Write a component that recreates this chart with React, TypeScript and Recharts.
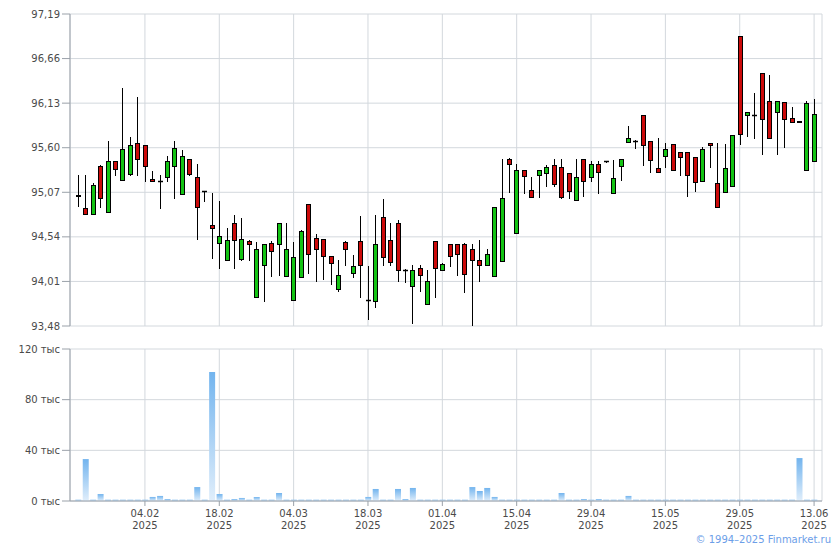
import { Bar, BarChart, CartesianGrid, ComposedChart, XAxis, YAxis } from 'recharts';

// Daily candles + volume, 22.01–13.06 2025 (trading days only).

const dates = [
  '22.01', '23.01', '24.01', '27.01', '28.01', '29.01', '30.01', '31.01', '03.02', '04.02',
  '05.02', '06.02', '07.02', '10.02', '11.02', '12.02', '13.02', '14.02', '17.02', '18.02',
  '19.02', '20.02', '21.02', '24.02', '25.02', '26.02', '27.02', '28.02', '03.03', '04.03',
  '05.03', '06.03', '07.03', '10.03', '11.03', '12.03', '13.03', '14.03', '17.03', '18.03',
  '19.03', '20.03', '21.03', '24.03', '25.03', '26.03', '27.03', '28.03', '31.03', '01.04',
  '02.04', '03.04', '04.04', '07.04', '08.04', '09.04', '10.04', '11.04', '14.04', '15.04',
  '16.04', '17.04', '18.04', '21.04', '22.04', '23.04', '24.04', '25.04', '28.04', '29.04',
  '30.04', '02.05', '05.05', '06.05', '07.05', '08.05', '12.05', '13.05', '14.05', '15.05',
  '16.05', '19.05', '20.05', '21.05', '22.05', '23.05', '26.05', '27.05', '28.05', '29.05',
  '30.05', '02.06', '03.06', '04.06', '05.06', '06.06', '09.06', '10.06', '11.06', '13.06',
];

const tickDates = ['04.02', '18.02', '04.03', '18.03', '01.04', '15.04', '29.04', '15.05', '29.05', '13.06'];

const open = [
  95.03, 94.88, 94.81, 95.38, 94.84, 95.44, 95.22, 95.29, 95.66, 95.63,
  95.23, 95.2, 95.25, 95.38, 95.05, 95.47, 95.25, 95.09, 94.68, 94.47,
  94.27, 94.7, 94.28, 94.49, 93.83, 94.21, 94.47, 94.45, 94.07, 93.79,
  94.06, 94.93, 94.53, 94.51, 94.31, 93.92, 94.48, 94.11, 94.49, 93.79,
  93.78, 94.78, 94.5, 94.71, 94.15, 93.96, 94.17, 93.74, 94.49, 94.15,
  94.46, 94.45, 94.46, 94.4, 94.26, 94.2, 94.07, 94.25, 95.47, 94.59,
  95.34, 95.1, 95.28, 95.3, 95.4, 95.37, 95.3, 94.98, 95.46, 95.25,
  95.41, 95.44, 95.06, 95.38, 95.67, 95.68, 95.99, 95.68, 95.36, 95.5,
  95.65, 95.55, 95.55, 95.49, 95.21, 95.66, 95.18, 95.07, 95.15, 96.93,
  95.99, 95.99, 96.49, 96.15, 96.02, 96.14, 95.95, 95.92, 95.33, 95.44,
];

const high = [
  95.28, 95.28, 95.18, 95.4, 95.68, 95.44, 96.31, 95.73, 96.2, 95.63,
  95.32, 95.27, 95.5, 95.68, 95.57, 95.47, 95.41, 95.09, 95.06, 94.97,
  94.65, 94.8, 94.76, 94.5, 94.48, 94.46, 94.49, 94.71, 94.71, 94.48,
  94.62, 94.93, 94.57, 94.52, 94.31, 94.27, 94.49, 94.33, 94.79, 94.19,
  94.8, 94.99, 94.7, 94.74, 94.16, 94.2, 94.2, 94.15, 94.49, 94.23,
  94.46, 94.46, 94.47, 94.46, 94.5, 94.4, 94.9, 95.47, 95.48, 95.41,
  95.34, 95.25, 95.33, 95.39, 95.46, 95.47, 95.3, 95.47, 95.47, 95.44,
  95.44, 95.44, 95.45, 95.47, 95.86, 95.69, 95.99, 95.68, 95.71, 95.66,
  95.65, 95.55, 95.55, 95.49, 95.61, 95.66, 95.66, 95.65, 95.75, 96.93,
  96.03, 96.25, 96.49, 96.47, 96.16, 96.14, 96.09, 95.92, 96.16, 96.18,
];

const low = [
  94.91, 94.81, 94.81, 94.89, 94.84, 95.27, 95.22, 95.28, 95.28, 95.21,
  95.2, 94.88, 95.21, 95.0, 95.05, 95.28, 94.51, 94.97, 94.29, 94.17,
  94.27, 94.17, 94.27, 94.27, 93.83, 93.78, 94.07, 94.09, 94.07, 93.79,
  94.06, 94.11, 94.02, 94.04, 93.98, 93.9, 94.21, 94.06, 93.82, 93.56,
  93.7, 94.21, 94.2, 94.01, 94.0, 93.52, 93.9, 93.74, 93.82, 94.15,
  94.19, 94.09, 93.89, 93.49, 94.02, 94.2, 94.07, 94.25, 95.07, 94.59,
  95.06, 95.01, 95.01, 95.15, 95.15, 95.0, 95.0, 94.98, 95.03, 95.21,
  95.06, 95.43, 95.06, 95.22, 95.67, 95.6, 95.4, 95.31, 95.31, 95.37,
  95.33, 95.28, 95.02, 95.08, 95.21, 95.37, 94.9, 95.07, 95.15, 95.64,
  95.74, 95.71, 95.53, 95.71, 95.52, 95.61, 95.9, 95.9, 95.33, 95.44,
];

const close = [
  95.04, 94.81, 95.16, 95.0, 95.44, 95.35, 95.58, 95.63, 95.47, 95.38,
  95.2, 95.2, 95.44, 95.6, 95.5, 95.29, 94.9, 95.08, 94.64, 94.55,
  94.5, 94.5, 94.52, 94.46, 94.4, 94.46, 94.37, 94.71, 94.4, 94.3,
  94.61, 94.34, 94.39, 94.31, 94.23, 94.09, 94.4, 94.19, 94.21, 93.79,
  94.46, 94.3, 94.24, 94.15, 94.15, 94.15, 94.09, 94.01, 94.17, 94.22,
  94.31, 94.34, 94.1, 94.27, 94.21, 94.34, 94.9, 95.0, 95.41, 95.34,
  95.26, 95.01, 95.33, 95.37, 95.17, 95.01, 95.08, 95.25, 95.21, 95.41,
  95.31, 95.44, 95.24, 95.47, 95.72, 95.68, 95.63, 95.45, 95.31, 95.59,
  95.33, 95.49, 95.28, 95.19, 95.58, 95.63, 94.9, 95.36, 95.75, 95.76,
  96.03, 95.99, 95.94, 95.71, 96.16, 95.94, 95.91, 95.91, 96.13, 96.0,
];

const volume = [
  1000, 33100, 1000, 5500, 1000, 1000, 1000, 1000, 1000, 1000,
  3200, 4000, 1600, 1000, 1000, 1000, 11000, 1000, 101800, 5500,
  1000, 1600, 2400, 1000, 3200, 1000, 1000, 6300, 1000, 1000,
  1000, 1000, 1000, 1000, 1000, 1000, 1000, 1000, 1000, 3200,
  9500, 1000, 1000, 9500, 1600, 10300, 1000, 1000, 1000, 1000,
  1000, 1000, 1000, 11000, 7900, 10300, 3200, 1000, 1000, 1000,
  1000, 1000, 1000, 1000, 1000, 6300, 1000, 1000, 1600, 1000,
  1600, 1000, 1000, 1000, 4000, 1000, 1000, 1000, 1000, 1000,
  1000, 1000, 1000, 1000, 1000, 1000, 1000, 1000, 1000, 1000,
  1000, 1000, 1000, 1000, 1000, 1000, 1000, 33900, 1000, 1000,
];

const priceTicks = [93.48, 94.01, 94.54, 95.07, 95.6, 96.13, 96.66, 97.19];
const volumeTicks = [0, 40000, 80000, 120000];

const data = dates.map((date, i) => ({
  date,
  open: open[i],
  high: high[i],
  low: low[i],
  close: close[i],
  range: [low[i], high[i]],
  volume: volume[i],
}));

const FONT = '"DejaVu Sans", Verdana, sans-serif';
const GRID = '#d3d8dd';
const AXIS = '#9aa1a9';
const TEXT = '#4a4a4a';
const UP = '#14c414';
const DOWN = '#cc0a0a';

const xPadding = { left: 4.3, right: 4.2 };

function Candle(props: any) {
  const { x, y, width, height, payload } = props;
  const { open: o, high: h, low: l, close: c } = payload;
  const span = h - l || 1;
  const py = (p: number) => y + ((h - p) / span) * height;
  const cx = Math.round(x + width / 2);
  const top = Math.round(py(Math.max(o, c))) + 0.5;
  const bottom = Math.round(py(Math.min(o, c))) + 0.5;
  return (
    <g>
      <line x1={cx + 0.5} x2={cx + 0.5} y1={Math.round(y)} y2={Math.round(y + height) + 1} stroke="#000" />
      {bottom - top < 1 ? (
        <line x1={cx - 2} x2={cx + 3} y1={top} y2={top} stroke="#000" strokeWidth={1.5} />
      ) : (
        <rect x={cx - 1.5} y={top} width={4} height={bottom - top} fill={c >= o ? UP : DOWN} stroke="#000" />
      )}
    </g>
  );
}

function DateTick(props: any) {
  const { x, y, payload } = props;
  return (
    <text x={x} y={y} textAnchor="middle" fill={TEXT} fontSize={10} fontFamily={FONT}>
      <tspan x={x} dy={9}>{payload.value}</tspan>
      <tspan x={x} dy={12}>2025</tspan>
    </text>
  );
}

const fmtPrice = (v: number) => v.toFixed(2).replace('.', ',');
const fmtVolume = (v: number) => `${v / 1000} тыс`;

export default function App() {
  return (
    <div style={{ position: 'absolute', left: 0, top: 0, width: 840, height: 550, background: '#fff' }}>
      <div style={{ position: 'absolute', left: 0, top: 0 }}>
        <ComposedChart width={840} height={340} data={data} margin={{ top: 14, right: 18, bottom: 14, left: 8 }}>
          <CartesianGrid stroke={GRID} />
          <XAxis dataKey="date" ticks={tickDates} padding={xPadding} hide />
          <YAxis
            domain={[93.48, 97.19]}
            ticks={priceTicks}
            width={62}
            tickFormatter={fmtPrice}
            stroke={AXIS}
            tickSize={8}
            tick={{ fill: TEXT, fontSize: 10, fontFamily: FONT }}
          />
          <Bar dataKey="range" barSize={5} shape={(p: any) => <Candle {...p} />} isAnimationActive={false} />
        </ComposedChart>
      </div>
      <div style={{ position: 'absolute', left: 0, top: 340 }}>
        <BarChart width={840} height={210} data={data} margin={{ top: 9, right: 18, bottom: 14, left: 8 }}>
          <defs>
            <linearGradient id="volGrad" x1="0" y1="0" x2="0" y2="1">
              <stop offset="0%" stopColor="#72b4ee" />
              <stop offset="100%" stopColor="#e0eefb" />
            </linearGradient>
          </defs>
          <CartesianGrid stroke={GRID} />
          <XAxis
            dataKey="date"
            ticks={tickDates}
            padding={xPadding}
            height={35}
            stroke={AXIS}
            tickSize={5}
            tick={<DateTick />}
            interval={0}
          />
          <YAxis
            domain={[0, 120000]}
            ticks={volumeTicks}
            width={62}
            tickFormatter={fmtVolume}
            stroke={AXIS}
            tickSize={8}
            tick={{ fill: TEXT, fontSize: 10, fontFamily: FONT }}
          />
          <Bar dataKey="volume" barSize={6} fill="url(#volGrad)" isAnimationActive={false} />
        </BarChart>
      </div>
      <div
        style={{
          position: 'absolute',
          right: 9,
          top: 534,
          fontFamily: FONT,
          fontSize: 10,
          color: '#6c9ee8',
          whiteSpace: 'nowrap',
        }}
      >
        © 1994–2025 Finmarket.ru
      </div>
    </div>
  );
}
